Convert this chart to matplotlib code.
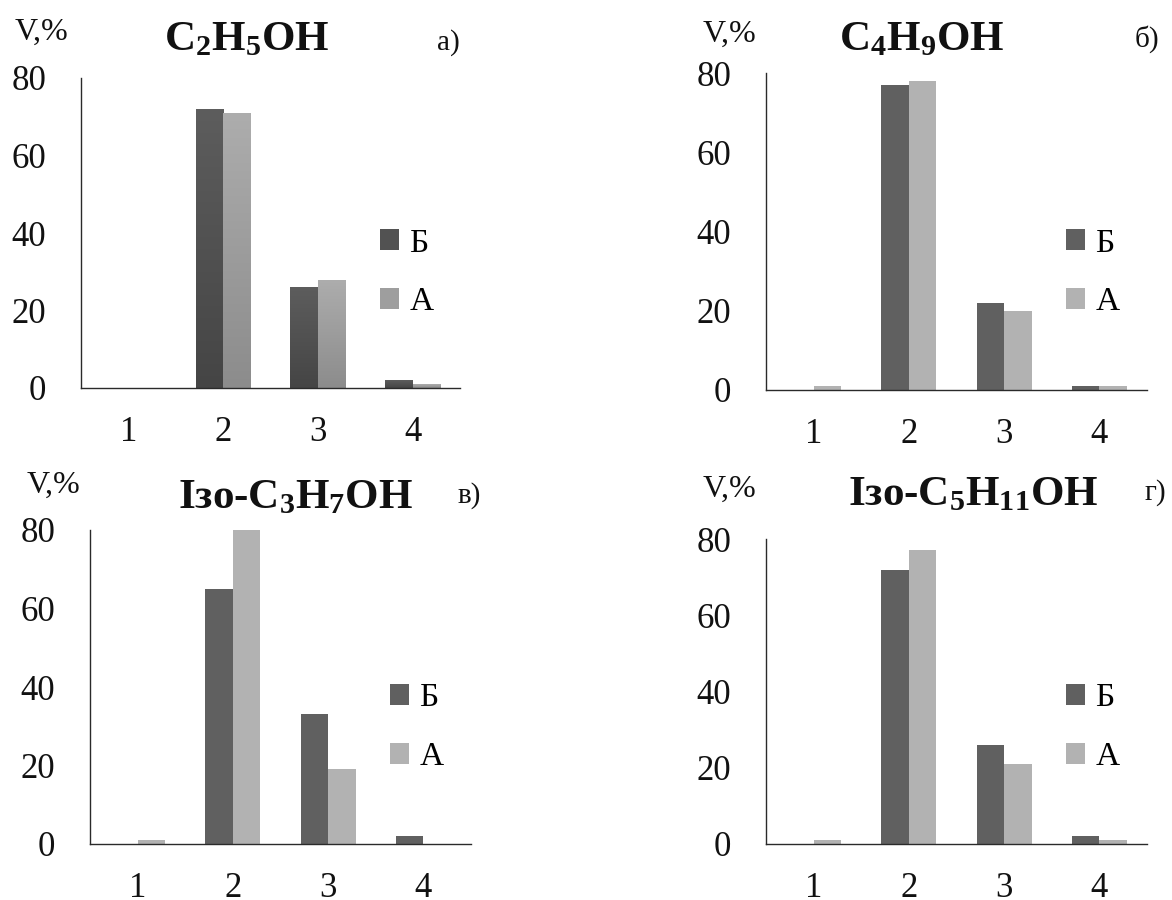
import numpy as np
import matplotlib
matplotlib.use('Agg')
import matplotlib.pyplot as plt
from matplotlib.patches import Patch
from matplotlib.colors import LinearSegmentedColormap

plt.rcParams['font.family'] = ['Liberation Serif', 'DejaVu Serif']
plt.rcParams['mathtext.fontset'] = 'custom'
plt.rcParams['mathtext.rm'] = 'Liberation Serif'
plt.rcParams['mathtext.bf'] = 'Liberation Serif:bold'
plt.rcParams['mathtext.it'] = 'Liberation Serif:italic'

# ---------------- data ----------------
categories = [1, 2, 3, 4]
series_names = ['Б', 'А']
yticks = [0, 20, 40, 60, 80]

titles = [r'C$_\mathbf{2}$H$_\mathbf{5}$OH',
          r'C$_\mathbf{4}$H$_\mathbf{9}$OH',
          r'Ізо-C$_\mathbf{3}$H$_\mathbf{7}$OH',
          r'Ізо-C$_\mathbf{5}$H$_\mathbf{11}$OH']
panel_labels = ['а)', 'б)', 'в)', 'г)']
y_label = 'V,%'

vals_a_B = [0, 72, 26, 2]
vals_a_A = [0, 71, 28, 1]
vals_b_B = [0, 77, 22, 1]
vals_b_A = [1, 78, 20, 1]
vals_c_B = [0, 65, 33, 2]
vals_c_A = [1, 80, 19, 0]
vals_d_B = [0, 72, 26, 2]
vals_d_A = [1, 77, 21, 1]

panel_values = [(vals_a_B, vals_a_A), (vals_b_B, vals_b_A),
                (vals_c_B, vals_c_A), (vals_d_B, vals_d_A)]

# ---------------- layout (pixels) ----------------
W, H = 1172, 900
# left, top(=80), right, bottom(=0)
axes_px = [(81, 78, 460, 388), (766, 73, 1147, 390),
           (90, 530, 471, 844), (766, 539, 1147, 844)]
title_px = [(247, 50), (922, 50), (296, 508), (973, 505)]
plabel_px = [(437, 50), (1135, 47), (458, 503), (1145, 500)]
vlabel_px = [(15, 40), (703, 42), (27, 493), (703, 497)]
legend_px = [(380, 228), (1066, 228), (390, 683), (1066, 683)]

dark = '#606060'
light = '#b2b2b2'
grad_dark = ('#5d5d5d', '#454545')   # top, bottom
grad_light = ('#adadad', '#8c8c8c')

fig = plt.figure(figsize=(W / 100, H / 100), dpi=100)


def gradient_fill(ax, rect, top_c, bot_c):
    h = rect.get_height()
    if h <= 0:
        return
    x, y, w = rect.get_x(), rect.get_y(), rect.get_width()
    cmap = LinearSegmentedColormap.from_list('g', [bot_c, top_c])
    grad = np.linspace(0, 1, 256).reshape(-1, 1)
    im = ax.imshow(grad, extent=[x, x + w, y, y + h], origin='lower',
                   aspect='auto', cmap=cmap, zorder=2, interpolation='bilinear')
    im.set_clip_path(rect)


bw = 0.29
for i, ((vb, va), (l, t, r, b)) in enumerate(zip(panel_values, axes_px)):
    ax = fig.add_axes([l / W, 1 - b / H, (r - l) / W, (b - t) / H])
    x = np.array(categories, dtype=float)
    if i == 0:
        rb = ax.bar(x - bw / 2, vb, bw, color=grad_dark[1], linewidth=0, zorder=1)
        ra = ax.bar(x + bw / 2, va, bw, color=grad_light[1], linewidth=0, zorder=1)
        for rect in rb:
            gradient_fill(ax, rect, *grad_dark)
        for rect in ra:
            gradient_fill(ax, rect, *grad_light)
        hcols = ['#525252', '#9e9e9e']
    else:
        ax.bar(x - bw / 2, vb, bw, color=dark, linewidth=0)
        ax.bar(x + bw / 2, va, bw, color=light, linewidth=0)
        hcols = [dark, light]
    ax.set_xlim(0.5, 4.5)
    ax.set_ylim(0, 80)
    ax.set_xticks(categories)
    ax.set_xticklabels([str(c) for c in categories])
    ax.set_yticks(yticks)
    ax.set_yticklabels([str(v) for v in yticks])
    for s in ['top', 'right']:
        ax.spines[s].set_visible(False)
    for s in ['left', 'bottom']:
        ax.spines[s].set_color('#2a2a2a')
        ax.spines[s].set_linewidth(1.0)
        ax.spines[s].set_zorder(5)
    ax.tick_params(axis='both', length=0, labelsize=25, colors='#111111')
    ax.tick_params(axis='x', pad=20)
    ax.tick_params(axis='y', pad=25)
    ax.patch.set_alpha(0)

    handles = [Patch(facecolor=hcols[0], edgecolor='none'),
               Patch(facecolor=hcols[1], edgecolor='none')]
    lx, ly = legend_px[i]
    ax.legend(handles, series_names, loc='upper left',
              bbox_to_anchor=(lx / W, 1 - ly / H), bbox_transform=fig.transFigure,
              frameon=False, borderpad=0, borderaxespad=0, fontsize=24,
              handlelength=0.58, handleheight=0.58, handletextpad=0.3,
              labelspacing=0.85)

    tx, ty = title_px[i]
    fig.text(tx / W, 1 - ty / H, titles[i], fontsize=31, fontweight='bold',
             ha='center', va='baseline', color='#111111')
    px, py = plabel_px[i]
    fig.text(px / W, 1 - py / H, panel_labels[i], fontsize=21,
             ha='left', va='baseline', color='#111111')
    vx, vy = vlabel_px[i]
    fig.text(vx / W, 1 - vy / H, y_label, fontsize=23,
             ha='left', va='baseline', color='#111111')

fig.savefig('out.png', dpi=100, facecolor='white')
